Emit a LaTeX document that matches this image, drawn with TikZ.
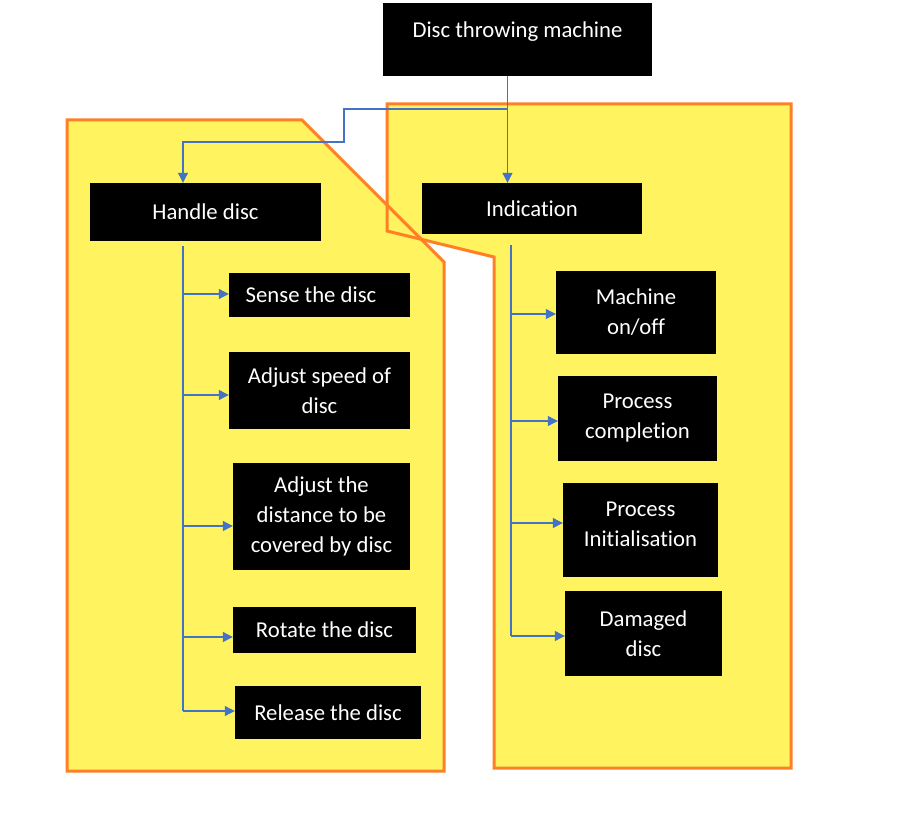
\documentclass[tikz,border=0pt]{standalone}
\usepackage{fontspec}
\setmainfont{Carlito}[Ligatures=NoCommon]
\usetikzlibrary{arrows.meta,calc}
\definecolor{zoneyellow}{HTML}{FFF35F}
\definecolor{zoneorange}{HTML}{FF7F27}
\definecolor{linkblue}{HTML}{4472C4}

\begin{document}
\begin{tikzpicture}[x=1pt,y=-1pt,
		box/.style={fill=black,text=white,inner sep=0pt,align=center,font=\fontsize{22.7}{30}\selectfont},
		zone/.style={draw=zoneorange,line width=3pt,line join=miter},
		flow/.style={draw=linkblue,line width=1.1pt,-{Triangle[length=10pt,width=10pt]}},
		bus/.style={draw=linkblue,line width=1.1pt}]
		\useasboundingbox (0,0) rectangle (918,813);
		% yellow zones
		\fill [zoneyellow] (67,120) -- (302,120) -- (444,262) -- (444,771) -- (67,771) -- cycle;
		\fill [zoneyellow] (387,104) -- (791,104) -- (791,768) -- (494,768) -- (494,257) -- (387,231) -- cycle;
		\draw [zone] (67,120) -- (302,120) -- (444,262) -- (444,771) -- (67,771) -- cycle;
		\draw [zone] (387,104) -- (791,104) -- (791,768) -- (494,768) -- (494,257) -- (387,231) -- cycle;
		% boxes
		\node [box,minimum width=269pt,minimum height=73pt,text depth=20pt] (top) at (517.5,39.5) {Disc throwing machine};
		\node [box,minimum width=231pt,minimum height=58pt] (hd) at (205.5,212) {Handle disc};
		\node [box,minimum width=220pt,minimum height=51pt] (ind) at (532,208.5) {Indication};
		\node [box,minimum width=181pt,minimum height=44pt] (s1) at (319.5,295) {Sense the disc\hspace*{17pt}};
		\node [box,minimum width=181pt,minimum height=77pt] (s2) at (319.5,390.5) {Adjust speed of\\disc};
		\node [box,minimum width=177pt,minimum height=107pt] (s3) at (321.5,516.5) {Adjust the\\distance to be\\covered by disc};
		\node [box,minimum width=183pt,minimum height=46pt] (s4) at (324.5,630) {Rotate the disc};
		\node [box,minimum width=186pt,minimum height=53pt] (s5) at (328,712.5) {Release the disc};
		\node [box,minimum width=160pt,minimum height=83pt] (i1) at (636,312.5) {Machine\\on/off};
		\node [box,minimum width=159pt,minimum height=85pt] (i2) at (637.5,418.5) {Process\\completion};
		\node [box,minimum width=155pt,minimum height=94pt,text depth=12pt] (i3) at (640.5,530) {Process\\Initialisation};
		\node [box,minimum width=157pt,minimum height=85pt] (i4) at (643.5,633.5) {Damaged\\disc};
		% connectors from the top
		\coordinate (j) at (507.5,109);
		\coordinate (k) at (344,142);
		\coordinate (hj) at (183,142);
		\draw [flow] (j |- top.south) -- (j |- ind.north);
		\draw [flow] (j) -| (k) -- (hj) -- (hj |- hd.north);
		% left bus
		\coordinate (lbus) at (183,246);
		\draw [bus] (lbus) -- (183,711);
		\foreach \n/\y in {s1/294,s2/395,s3/526,s4/637,s5/711}
			\draw [flow] (lbus |- 0,\y) -- (\n.west |- 0,\y);
		% right bus
		\coordinate (rbus) at (511,245);
		\draw [bus] (rbus) -- (511,636);
		\foreach \n/\y in {i1/314,i2/421,i3/523,i4/636}
			\draw [flow] (rbus |- 0,\y) -- (\n.west |- 0,\y);
	\end{tikzpicture}
\end{document}
